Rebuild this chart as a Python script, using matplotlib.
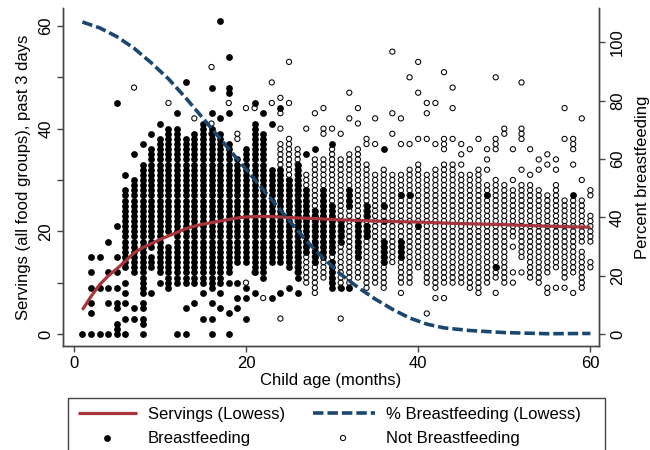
import matplotlib; matplotlib.use("Agg")
import matplotlib.pyplot as plt
from matplotlib.patches import Rectangle
import numpy as np

plt.rcParams["font.family"] = ["Liberation Sans", "DejaVu Sans"]

# ---- data ----
# runs of observed servings per month: (month, lowest, highest)
bf_runs = [(6, 13, 28), (7, 12, 30), (8, 8, 33), (9, 17, 36), (9, 13, 15), (10, 12, 38),
           (11, 20, 40), (11, 9, 17), (12, 10, 40), (13, 10, 38), (14, 10, 39), (15, 10, 41),
           (16, 9, 40), (17, 10, 39), (18, 12, 37), (19, 14, 34), (20, 14, 36), (21, 12, 41),
           (22, 11, 39), (23, 14, 32), (24, 14, 32), (25, 13, 30), (26, 11, 33), (27, 16, 28),
           (28, 14, 24), (29, 15, 28), (30, 9, 14), (30, 16, 25), (31, 18, 22), (32, 25, 28),
           (33, 15, 22), (34, 23, 25), (34, 19, 21), (36, 14, 18), (38, 15, 18)]
bf_points = [(1, 0), (2, 0), (2, 4), (2, 6), (2, 9), (2, 12), (2, 15), (3, 0), (3, 9), (3, 15),
             (4, 0), (4, 6), (4, 9), (4, 12), (4, 18), (5, 0), (5, 1), (5, 2), (5, 5), (5, 6),
             (5, 9), (5, 12), (5, 15), (5, 21), (5, 45), (6, 0), (6, 3), (6, 6), (6, 8), (6, 10),
             (6, 31), (7, 3), (7, 5), (7, 35), (8, 0), (8, 2), (8, 3), (8, 5), (8, 6), (8, 37),
             (9, 8), (9, 39), (10, 10), (10, 41), (12, 0), (12, 43), (13, 0), (13, 5), (13, 49),
             (14, 6), (15, 3), (15, 8), (16, 0), (16, 3), (16, 6), (16, 43), (16, 48), (17, 5),
             (17, 8), (17, 42), (17, 61), (18, 0), (18, 4), (18, 10), (18, 43), (18, 47), (18, 48),
             (18, 54), (19, 5), (19, 7), (19, 10), (20, 3), (20, 7), (20, 9), (21, 8), (21, 45),
             (22, 43), (23, 7), (23, 41), (24, 8), (24, 44), (25, 9), (26, 8), (27, 35), (28, 36),
             (30, 37), (31, 9), (32, 9), (36, 22), (36, 25), (36, 36), (38, 27), (39, 27),
             (40, 21), (48, 27), (49, 13), (58, 27)]

nbf_runs = [(24, 26, 37), (25, 14, 38), (26, 12, 36), (27, 10, 31), (28, 8, 34), (29, 11, 34),
            (30, 10, 36), (31, 9, 34), (32, 9, 35), (33, 11, 36), (34, 9, 33), (35, 10, 31),
            (36, 9, 32), (37, 14, 31), (38, 10, 31), (39, 10, 32), (40, 13, 33), (41, 10, 31),
            (42, 9, 32), (43, 10, 33), (44, 10, 33), (45, 10, 31), (46, 9, 31), (47, 8, 32),
            (48, 10, 29), (49, 11, 30), (50, 10, 29), (51, 19, 28), (52, 15, 29), (53, 11, 29),
            (54, 10, 28), (55, 21, 27), (55, 12, 20), (56, 13, 29), (57, 11, 26), (58, 12, 26),
            (59, 18, 26), (59, 9, 16), (60, 18, 23), (60, 13, 14)]
nbf_points = [(7, 48), (11, 45), (14, 42), (16, 52), (16, 41), (16, 39), (18, 45), (19, 39),
              (19, 38), (20, 44), (20, 10), (21, 44), (21, 12), (22, 7), (23, 49), (23, 45),
              (24, 46), (24, 43), (24, 40), (24, 3), (25, 53), (25, 45), (27, 40), (28, 43),
              (29, 44), (29, 39), (29, 40), (30, 40), (31, 39), (31, 3), (32, 42), (32, 47),
              (33, 44), (33, 41), (34, 37), (34, 38), (35, 42), (35, 37), (37, 55), (37, 43),
              (37, 39), (38, 42), (38, 37), (38, 8), (39, 50), (39, 37), (40, 53), (40, 47),
              (40, 38), (41, 45), (41, 43), (41, 38), (41, 4), (42, 45), (42, 37), (42, 7),
              (43, 51), (43, 36), (43, 37), (43, 38), (43, 7), (44, 48), (44, 44), (44, 38),
              (45, 33), (45, 35), (45, 37), (46, 36), (47, 38), (48, 32), (48, 34), (48, 36),
              (49, 50), (49, 36), (49, 37), (49, 38), (49, 8), (50, 39), (50, 40), (51, 30),
              (51, 36), (51, 17), (51, 12), (51, 10), (52, 49), (52, 38), (52, 39), (52, 40),
              (52, 32), (52, 12), (53, 36), (53, 31), (54, 34), (54, 32), (55, 35), (55, 33),
              (55, 9), (55, 8), (56, 34), (56, 32), (56, 9), (57, 44), (57, 38), (57, 9),
              (58, 36), (58, 37), (58, 38), (58, 33), (58, 8), (59, 42), (59, 30), (60, 28),
              (60, 27)]

serv_age = [1, 2, 3, 4, 5, 6, 7, 8, 9, 10, 11, 12, 13, 14, 15, 16, 17, 18, 19, 20,
            22, 24, 26, 28, 30, 35, 40, 45, 50, 55, 60]
serv_lowess = [4.7, 7.3, 9.6, 11.3, 12.7, 14.2, 15.8, 16.8, 17.6, 18.4, 19.1, 19.8, 20.5,
               21.0, 21.4, 21.7, 22.0, 22.3, 22.6, 22.8, 22.9, 22.8, 22.6, 22.5, 22.3, 22.0,
               21.8, 21.5, 21.3, 21.0, 20.8]
pct_age = [1, 3, 5, 7, 9, 11, 13, 15, 17, 19, 21, 23, 25, 27, 29, 31, 33, 35, 37, 39,
           41, 43, 46, 50, 55, 60]
pct_lowess = [107, 105, 102, 98, 93, 87.5, 81, 74, 67, 60, 53, 46, 39, 32, 26, 20.5, 16,
              12, 8.5, 5.5, 3.4, 2.1, 1.2, 0.5, 0.1, 0.2]


def expand(runs, points):
    xs, ys = [], []
    for m, lo, hi in runs:
        v = np.arange(lo, hi + 1)
        xs += [m] * len(v); ys += list(v)
    for m, s in points:
        xs.append(m); ys.append(s)
    return np.array(xs), np.array(ys)


bf_x, bf_y = expand(bf_runs, bf_points)
nbf_x, nbf_y = expand(nbf_runs, nbf_points)

RED = "#a8353b"
BLUE = "#1a476f"
AXC = "#444444"
FS = 12

fig = plt.figure(figsize=(6.5, 4.5), dpi=100)
ax = fig.add_axes([63 / 650, 1 - 346 / 450, 536 / 650, 338 / 450])
ax2 = ax.twinx()

ax.scatter(bf_x, bf_y, s=24, c="black", linewidths=0, zorder=2)
ax.scatter(nbf_x, nbf_y, s=14, facecolors="none", edgecolors="black", linewidths=0.75, zorder=2)
ax.plot(serv_age, serv_lowess, color=RED, lw=2.3, zorder=4, solid_capstyle="butt")
ax2.plot(pct_age, pct_lowess, color=BLUE, lw=2.6, ls=(0, (2.9, 1.1)), zorder=4)

ax.set_xlim(-1.25, 61)
ax.set_ylim(-2.34, 63.5)
ax2.set_ylim(-4.11, 111.8)
ax.set_xticks([0, 20, 40, 60])
ax.set_yticks(range(0, 61, 10))
ax.set_yticklabels(["0", "", "20", "", "40", "", "60"])
ax2.set_yticks(range(0, 101, 20))

for a in (ax, ax2):
    a.spines["top"].set_visible(False)
    for sp in a.spines.values():
        sp.set_color(AXC); sp.set_linewidth(1.0)
    a.tick_params(colors=AXC, labelcolor="black", length=4, width=1.0, labelsize=FS)
ax.tick_params(axis="x", pad=3)
ax.tick_params(axis="y", pad=3)
ax2.tick_params(axis="y", pad=4)
plt.setp(ax.get_yticklabels(), rotation=90, va="center")
plt.setp(ax2.get_yticklabels(), rotation=90, va="center")

ax.set_xlabel("Child age (months)", fontsize=FS, labelpad=2)
ax.set_ylabel("Servings (all food groups), past 3 days", fontsize=FS, labelpad=5)
ax2.set_ylabel("Percent breastfeeding", fontsize=FS, labelpad=7, rotation=90)

# ---- legend box (pixel coordinates of the figure) ----
lax = fig.add_axes([0, 0, 1, 1], zorder=-1)
lax.set_xlim(0, 650); lax.set_ylim(450, 0); lax.axis("off")
lax.add_patch(Rectangle((68, 398), 537, 70, fill=False, ec=AXC, lw=1.0))
lax.plot([78, 137], [413, 413], color=RED, lw=2.3, solid_capstyle="butt")
lax.plot([313, 375], [413, 413], color=BLUE, lw=2.6, ls=(0, (2.9, 1.1)))
lax.scatter([107], [438], s=24, c="black", linewidths=0)
lax.scatter([343], [438], s=14, facecolors="none", edgecolors="black", linewidths=0.75)
lax.text(148, 414, "Servings (Lowess)", fontsize=FS, va="center")
lax.text(386, 414, "% Breastfeeding (Lowess)", fontsize=FS, va="center")
lax.text(148, 439, "Breastfeeding", fontsize=FS, va="center")
lax.text(386, 439, "Not Breastfeeding", fontsize=FS, va="center")

fig.savefig("out.png", dpi=100)
